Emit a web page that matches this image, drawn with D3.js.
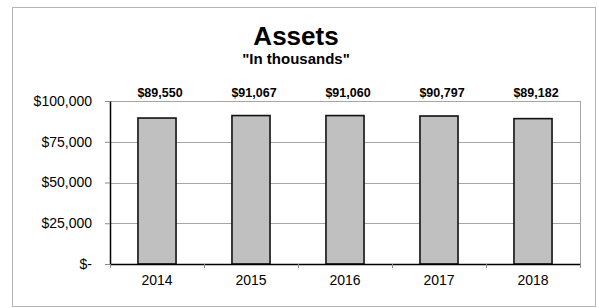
<!DOCTYPE html>
<html>
<head>
<meta charset="utf-8">
<script src="https://cdn.jsdelivr.net/npm/d3@7"></script>
<style>
  body { margin: 0; background: #fff; }
  svg { display: block; font-family: "Liberation Sans", Arial, sans-serif; }
</style>
</head>
<body>
<div id="chart"></div>
<script>
const years = ['2014', '2015', '2016', '2017', '2018'];
const assets = [89550, 91067, 91060, 90797, 89182];
const yTicks = [0, 25000, 50000, 75000, 100000];

const width = 599;
const height = 308;
const margin = { top: 101, right: 19, bottom: 44, left: 110 };

const svg = d3.select('#chart')
  .append('svg')
  .attr('width', width)
  .attr('height', height);

svg.append('rect')
  .attr('width', width)
  .attr('height', height)
  .attr('fill', '#fff');

// outer chart border
svg.append('rect')
  .attr('x', 12.5)
  .attr('y', 7.5)
  .attr('width', 583)
  .attr('height', 299)
  .attr('fill', 'none')
  .attr('stroke', '#b4b4b4');

const x = d3.scaleBand()
  .domain(years)
  .range([margin.left, width - margin.right])
  .paddingInner(0.595)
  .paddingOuter(0.2975);

const xEdges = d3.scaleLinear()
  .domain([0, years.length])
  .range([margin.left, width - margin.right]);

const y = d3.scaleLinear()
  .domain([0, 100000])
  .range([height - margin.bottom, margin.top]);

// gridlines
svg.append('g')
  .selectAll('line')
  .data(yTicks.slice(1))
  .join('line')
  .attr('x1', margin.left)
  .attr('x2', width - margin.right)
  .attr('y1', d => Math.round(y(d)) + 0.5)
  .attr('y2', d => Math.round(y(d)) + 0.5)
  .attr('stroke', '#a6a6a6');

// right border of plot area
svg.append('line')
  .attr('x1', width - margin.right + 0.5)
  .attr('x2', width - margin.right + 0.5)
  .attr('y1', margin.top)
  .attr('y2', height - margin.bottom)
  .attr('stroke', '#a6a6a6');

// bars
svg.append('g')
  .selectAll('rect')
  .data(assets)
  .join('rect')
  .attr('x', (d, i) => x(years[i]))
  .attr('y', d => y(d))
  .attr('width', x.bandwidth())
  .attr('height', d => y(0) - y(d))
  .attr('fill', '#c0c0c0')
  .attr('stroke', '#111')
  .attr('stroke-width', 1.6);

// value labels
svg.append('g')
  .selectAll('text')
  .data(assets)
  .join('text')
  .attr('x', (d, i) => x(years[i]) + x.bandwidth() / 2 + 3)
  .attr('y', 97)
  .attr('text-anchor', 'middle')
  .attr('font-size', 12.5)
  .attr('font-weight', 'bold')
  .attr('fill', '#000')
  .text(d => '$' + d3.format(',')(d));

// y axis
const yAxis = svg.append('g')
  .attr('transform', `translate(${margin.left},0)`)
  .call(d3.axisLeft(y)
    .tickValues(yTicks)
    .tickSizeInner(5)
    .tickSizeOuter(0)
    .tickPadding(13)
    .tickFormat(d => d === 0 ? '$-' : '$' + d3.format(',')(d)));
yAxis.select('.domain').attr('stroke', '#000').attr('stroke-width', 1.5);
yAxis.selectAll('.tick line').attr('stroke', '#8c8c8c');
yAxis.selectAll('.tick text')
  .attr('font-size', 14)
  .attr('font-family', '"Liberation Sans", Arial, sans-serif')
  .attr('fill', '#000');

// x axis: boundary ticks
const xTickAxis = svg.append('g')
  .attr('transform', `translate(0,${height - margin.bottom})`)
  .call(d3.axisBottom(xEdges)
    .tickValues(d3.range(years.length + 1))
    .tickSizeInner(4)
    .tickSizeOuter(0)
    .tickFormat(''));
xTickAxis.select('.domain').attr('stroke', '#000').attr('stroke-width', 1.5);
xTickAxis.selectAll('.tick line').attr('stroke', '#8c8c8c');

// x axis labels
const xAxis = svg.append('g')
  .attr('transform', `translate(0,${height - margin.bottom})`)
  .call(d3.axisBottom(x).tickSize(0).tickPadding(11));
xAxis.select('.domain').remove();
xAxis.selectAll('.tick text')
  .attr('font-size', 14)
  .attr('font-family', '"Liberation Sans", Arial, sans-serif')
  .attr('fill', '#000');

// titles
svg.append('text')
  .attr('x', 296)
  .attr('y', 45)
  .attr('text-anchor', 'middle')
  .attr('font-size', 26)
  .attr('font-weight', 'bold')
  .text('Assets');

svg.append('text')
  .attr('x', 296)
  .attr('y', 64)
  .attr('text-anchor', 'middle')
  .attr('font-size', 15)
  .attr('font-weight', 'bold')
  .text('"In thousands"');
</script>
</body>
</html>
